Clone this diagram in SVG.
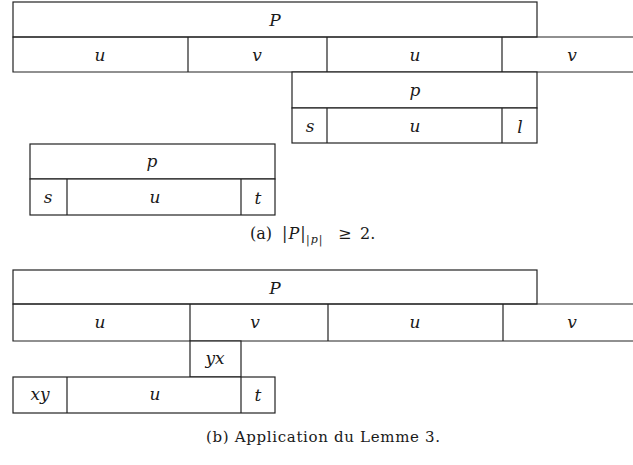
<svg xmlns="http://www.w3.org/2000/svg" width="633" height="465" viewBox="0 0 633 465">
  <style>
    .box { fill: #ffffff; stroke: #222222; stroke-width: 1.2; }
    .ln { fill: none; stroke: #222222; stroke-width: 1.2; }
    .var { font-family: "DejaVu Serif", "Liberation Serif", serif; font-style: italic; font-size: 17px; fill: #1a1a1a; text-anchor: middle; }
    .cap { font-family: "DejaVu Serif", "Liberation Serif", serif; font-size: 15px; fill: #1a1a1a; }
    .cap-a { font-size: 16px; }
    .sub { font-size: 11px; }
  </style>
  <rect width="633" height="465" fill="#ffffff"/>

  <!-- (a) -->
  <g id="a-P">
    <rect class="box" x="13" y="2" width="524" height="35"/>
    <text class="var" x="275" y="26">P</text>
  </g>
  <g id="a-row">
    <path class="ln" d="M633 37 H13 V72 H633"/>
    <path class="ln" d="M188 37 V72 M327 37 V72 M502 37 V72"/>
    <text class="var" x="100" y="61">u</text>
    <text class="var" x="257" y="61">v</text>
    <text class="var" x="415" y="61">u</text>
    <text class="var" x="572" y="61">v</text>
  </g>
  <g id="a-p-right">
    <rect class="box" x="292" y="72" width="245" height="36"/>
    <text class="var" x="415" y="96">p</text>
    <rect class="box" x="292" y="108" width="245" height="35"/>
    <path class="ln" d="M327 108 V143 M502 108 V143"/>
    <text class="var" x="310" y="132">s</text>
    <text class="var" x="415" y="132">u</text>
    <text class="var" x="520" y="133">l</text>
  </g>
  <g id="a-p-left">
    <rect class="box" x="30" y="144" width="245" height="35"/>
    <text class="var" x="152" y="167">p</text>
    <rect class="box" x="30" y="179" width="245" height="36"/>
    <path class="ln" d="M67 179 V215 M241 179 V215"/>
    <text class="var" x="48" y="203">s</text>
    <text class="var" x="155" y="203">u</text>
    <text class="var" x="258" y="204">t</text>
  </g>
  <text class="cap cap-a" y="239"><tspan x="250">(a)</tspan><tspan x="282" letter-spacing="1">|<tspan font-style="italic">P</tspan>|</tspan><tspan class="sub" x="306" y="243" letter-spacing="1">|<tspan font-style="italic">p</tspan>|</tspan><tspan x="338" y="239">≥</tspan><tspan x="360">2.</tspan></text>

  <!-- (b) -->
  <g id="b-P">
    <rect class="box" x="13" y="270" width="524" height="34"/>
    <text class="var" x="275" y="294">P</text>
  </g>
  <g id="b-row">
    <path class="ln" d="M633 304 H13 V341 H633"/>
    <path class="ln" d="M190 304 V341 M328 304 V341 M503 304 V341"/>
    <text class="var" x="100" y="328">u</text>
    <text class="var" x="255" y="328">v</text>
    <text class="var" x="415" y="328">u</text>
    <text class="var" x="572" y="328">v</text>
  </g>
  <g id="b-yx">
    <rect class="box" x="190" y="341" width="51" height="36"/>
    <text class="var" x="215" y="364">yx</text>
  </g>
  <g id="b-row2">
    <rect class="box" x="13" y="377" width="262" height="36"/>
    <path class="ln" d="M67 377 V413 M241 377 V413"/>
    <text class="var" x="40" y="400">xy</text>
    <text class="var" x="155" y="400">u</text>
    <text class="var" x="258" y="401">t</text>
  </g>
  <text class="cap" x="206" y="442" textLength="234">(b) Application du Lemme 3.</text>
</svg>
